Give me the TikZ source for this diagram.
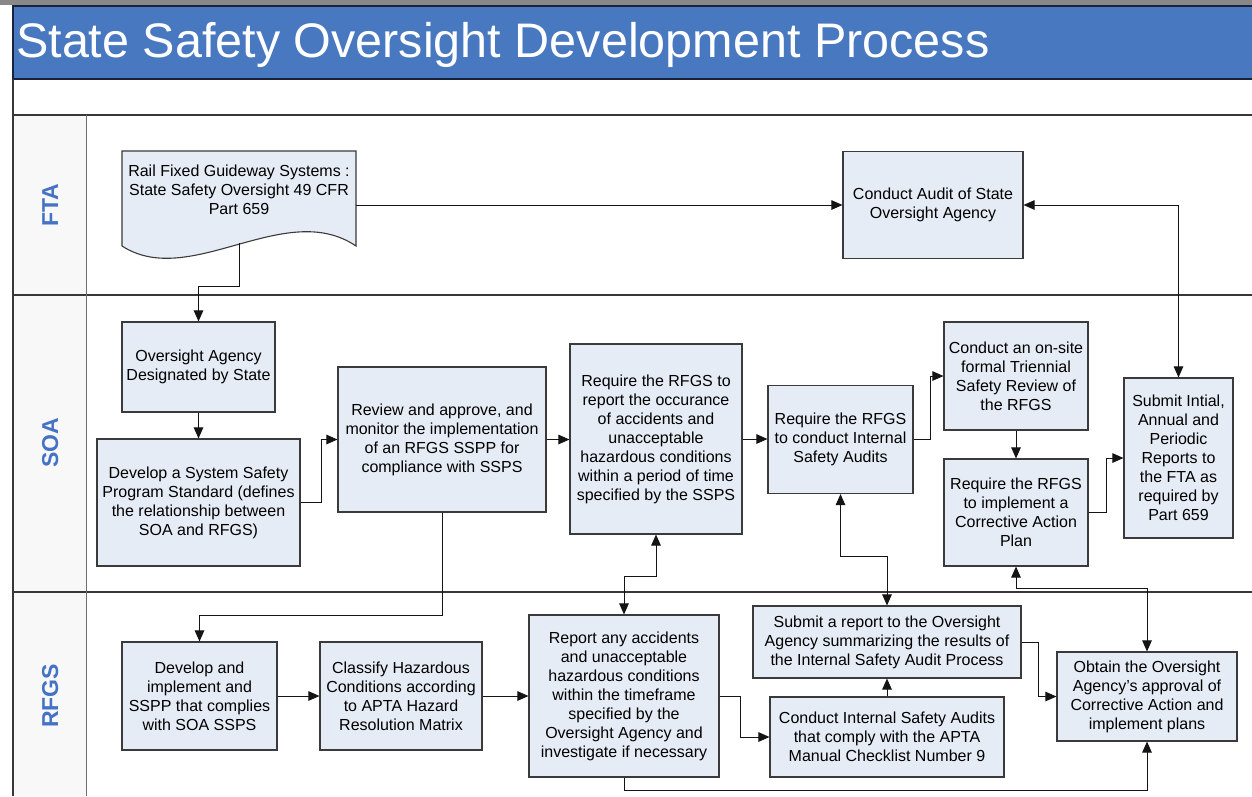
\documentclass[tikz,border=0pt]{standalone}
\usepackage{fontspec}
\setmainfont{Liberation Sans}
\usetikzlibrary{arrows.meta}
\definecolor{boxfill}{RGB}{230,236,246}
\definecolor{boxline}{RGB}{58,58,58}
\definecolor{connc}{RGB}{20,20,20}
\definecolor{laneline}{RGB}{55,55,55}
\definecolor{laneblue}{RGB}{68,114,196}
\definecolor{titleblue}{RGB}{72,120,192}
\definecolor{titleline}{RGB}{25,35,60}
\definecolor{topgray}{RGB}{136,136,136}
\definecolor{labelbg}{RGB}{248,248,248}
\definecolor{coldiv}{RGB}{110,110,110}
\begin{document}
\begin{tikzpicture}[x=1pt,y=-1pt,
  box/.style={draw=boxline, fill=boxfill, line width=1.1pt, align=center, inner sep=0pt, font=\fontsize{16}{19}\selectfont, text=black},
  sz/.style 2 args={minimum width=#1pt, minimum height=#2pt},
  conn/.style={draw=connc, line width=1pt, -{Triangle[length=11pt,width=9.5pt]}},
  conn2/.style={draw=connc, line width=1pt, {Triangle[length=11pt,width=9.5pt]}-{Triangle[length=11pt,width=9.5pt]}},
  lane/.style={draw=laneline, line width=1.6pt},
  lanelabel/.style={rotate=90, anchor=base, inner sep=0pt, font=\fontsize{23}{23}\selectfont\bfseries, text=laneblue}]
\useasboundingbox (0,0) rectangle (1252,796);
% background frame
\fill[white] (0,0) rectangle (1252,796);
\fill[topgray] (0,0) rectangle (1252,5);
\fill[titleblue] (13,6) rectangle (1252,79);
\fill[labelbg] (13,115) rectangle (86,796);
\draw[titleline, line width=1.6pt] (1252,6) -- (13,6) -- (13,79) -- (1252,79);
\draw[lane] (13,79) -- (13,796);
\draw[lane] (13,115) -- (1252,115);
\draw[lane] (13,295) -- (1252,295);
\draw[lane] (13,592) -- (1252,592);
\draw[coldiv, line width=1pt] (86,115) -- (86,796);
\node[anchor=base west, inner sep=0pt, text=white, font=\fontsize{48.5}{48.5}\selectfont] (title) at (16,57) {State Safety Oversight Development Process};
\node[lanelabel] (lFTA) at (58,205) {FTA};
\node[lanelabel] (lSOA) at (58,443) {SOA};
\node[lanelabel] (lRFGS) at (58,696) {RFGS};
% document shape
\draw[draw=boxline, fill=boxfill, line width=1.1pt] (122,151) -- (356,151) -- (356,246) .. controls (285,198) and (190,290) .. (122,246) -- cycle;
\node[align=center, inner sep=0pt, font=\fontsize{16}{19}\selectfont] (doc) at (239,190) {Rail Fixed Guideway Systems :\\State Safety Oversight 49 CFR\\Part 659};
\coordinate (docR) at (356,205);
\coordinate (docB) at (239,243);
% FTA lane
\node[box, sz={180}{107}] (audit) at (933,205) {Conduct Audit of State\\Oversight Agency};
% SOA lane
\node[box, sz={153}{90}] (oa) at (198.5,367) {Oversight Agency\\Designated by State};
\node[box, sz={203}{127}] (sssp) at (198.5,502.5) {Develop a System Safety\\Program Standard (defines\\the relationship between\\SOA and RFGS)};
\node[box, sz={208}{145}] (review) at (442,439.5) {Review and approve, and\\monitor the implementation\\of an RFGS SSPP for\\compliance with SSPS};
\node[box, sz={172}{190}] (reqrep) at (656,439) {Require the RFGS to\\report the occurance\\of accidents and\\unacceptable\\hazardous conditions\\within a period of time\\specified by the SSPS};
\node[box, sz={145}{108}] (reqaud) at (840.5,439.5) {Require the RFGS\\to conduct Internal\\Safety Audits};
\node[box, sz={144}{108}] (tri) at (1016,376) {Conduct an on-site\\formal Triennial\\Safety Review of\\the RFGS};
\node[box, sz={144}{107}] (cap) at (1016,512.5) {Require the RFGS\\to implement a\\Corrective Action\\Plan};
\node[box, sz={109}{160}] (submit) at (1178.5,458) {Submit Intial,\\Annual and\\Periodic\\Reports to\\the FTA as\\required by\\Part 659};
% RFGS lane
\node[box, sz={155}{108}] (devssp) at (199.5,696) {Develop and\\implement and\\SSPP that complies\\with SOA SSPS};
\node[box, sz={162}{108}] (classify) at (401,696) {Classify Hazardous\\Conditions according\\to APTA Hazard\\Resolution Matrix};
\node[box, sz={190}{162}] (report) at (624,696) {Report any accidents\\and unacceptable\\hazardous conditions\\within the timeframe\\specified by the\\Oversight Agency and\\investigate if necessary};
\node[box, sz={268}{72}] (subrep) at (887,642) {Submit a report to the Oversight\\Agency summarizing the results of\\the Internal Safety Audit Process};
\node[box, sz={234}{80}] (ciaud) at (887,737) {Conduct Internal Safety Audits\\that comply with the APTA\\Manual Checklist Number 9};
\node[box, sz={180}{89}] (obtain) at (1147,696.5) {Obtain the Oversight\\Agency's approval of\\Corrective Action and\\implement plans};
% connectors
\draw[conn] (docB) -- ++(0,43) -| (oa.north);
\draw[conn] (docR) -- (audit.west);
\draw[conn2] (audit.east) -| (submit.north);
\draw[conn] (oa.south) -- (sssp.north);
\draw[conn] (sssp.east) -- ++(21,0) |- (review.west);
\draw[conn] (review.east) -- (review.east -| reqrep.west);
\draw[conn] (reqrep.east) -- (reqrep.east -| reqaud.west);
\draw[conn] (reqaud.east) -- ++(17,0) |- (tri.west);
\draw[conn] (tri.south) -- (cap.north);
\draw[conn] (cap.east) -- ++(18,0) |- (submit.west);
\draw[conn] (review.south) -- ++(0,103) -| (devssp.north);
\draw[conn] (devssp.east) -- (classify.west);
\draw[conn] (classify.east) -- (report.west);
\draw[conn2] (report.north) -- ++(0,-38) -| (reqrep.south);
\draw[conn] (report.east) -- ++(21,0) |- (ciaud.west);
\draw[conn] (ciaud.north) -- (subrep.south);
\draw[conn2] (subrep.north) -- ++(0,-49) -| (reqaud.south);
\draw[conn] (subrep.east) -- ++(17,0) |- (obtain.west);
\draw[conn2] (obtain.north) -- ++(0,-63) -| (cap.south);
\draw[conn] (report.south) -- ++(0,13) -| (obtain.south);
\end{tikzpicture}
\end{document}
